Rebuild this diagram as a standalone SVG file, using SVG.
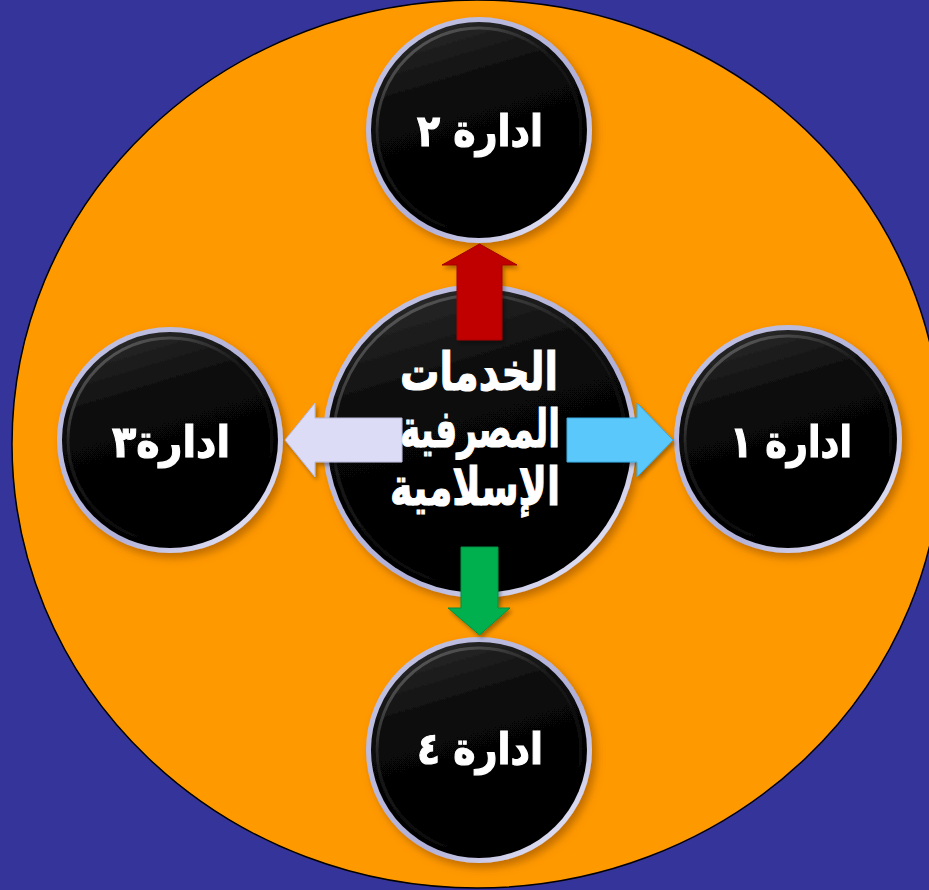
<svg xmlns="http://www.w3.org/2000/svg" width="929" height="890" viewBox="0 0 929 890">
  <defs>
    <style>
      .lbl { font-family: "DejaVu Sans", "Noto Sans", sans-serif; font-weight: bold; fill: #ffffff; stroke: #ffffff; stroke-width: 1.2; text-anchor: middle; }
      .small { font-size: 44px; }
      .big { font-size: 52px; }
      .ring { fill: url(#ringGrad); }
      .core { fill: url(#coreGrad); }
      .bevel { fill: none; stroke: url(#bevelGrad); stroke-width: 3; }
    </style>
    <linearGradient id="ringGrad" x1="0" y1="0" x2="1" y2="1">
      <stop offset="0" stop-color="#c4c4e4"/>
      <stop offset="0.6" stop-color="#b0b0d8"/>
      <stop offset="1" stop-color="#f4f4ff"/>
    </linearGradient>
    <linearGradient id="coreGrad" x1="0.3" y1="0" x2="0.6" y2="1">
      <stop offset="0" stop-color="#2a2a2a"/>
      <stop offset="0.35" stop-color="#080808"/>
      <stop offset="1" stop-color="#000000"/>
    </linearGradient>
    <linearGradient id="bevelGrad" x1="0" y1="0" x2="0.6" y2="1">
      <stop offset="0" stop-color="#707070"/>
      <stop offset="0.45" stop-color="#1a1a1a"/>
      <stop offset="1" stop-color="#000000"/>
    </linearGradient>
    <filter id="shadow" x="-20%" y="-20%" width="140%" height="140%">
      <feDropShadow dx="4" dy="5" stdDeviation="4" flood-color="#8a4a00" flood-opacity="0.55"/>
    </filter>
    <filter id="ashadow" x="-30%" y="-30%" width="160%" height="160%">
      <feDropShadow dx="2" dy="3" stdDeviation="2" flood-color="#000000" flood-opacity="0.35"/>
    </filter>
  </defs>

  <rect x="0" y="0" width="929" height="890" fill="#35349a"/>
  <ellipse id="bg-ellipse" cx="477" cy="444" rx="465" ry="444" fill="#ff9900" stroke="#000000" stroke-width="1.5"/>

  <g id="node-top" filter="url(#shadow)">
    <circle class="ring" cx="479" cy="130" r="113"/>
    <circle class="core" cx="479" cy="130" r="108"/>
    <circle class="bevel" cx="479" cy="130" r="102"/>
    <text class="lbl small" x="480" y="146" textLength="126" lengthAdjust="spacingAndGlyphs">ادارة ٢</text>
  </g>

  <g id="node-left" filter="url(#shadow)">
    <circle class="ring" cx="170" cy="440" r="113"/>
    <circle class="core" cx="170" cy="440" r="108"/>
    <circle class="bevel" cx="170" cy="440" r="102"/>
    <text class="lbl small" x="171" y="457" textLength="118" lengthAdjust="spacingAndGlyphs">ادارة٣</text>
  </g>

  <g id="node-right" filter="url(#shadow)">
    <circle class="ring" cx="788" cy="439" r="114"/>
    <circle class="core" cx="788" cy="439" r="109"/>
    <circle class="bevel" cx="788" cy="439" r="103"/>
    <text class="lbl small" x="791" y="457" textLength="122" lengthAdjust="spacingAndGlyphs">ادارة ١</text>
  </g>

  <g id="node-bottom" filter="url(#shadow)">
    <circle class="ring" cx="479" cy="750" r="113"/>
    <circle class="core" cx="479" cy="750" r="108"/>
    <circle class="bevel" cx="479" cy="750" r="102"/>
    <text class="lbl small" x="480" y="764" textLength="126" lengthAdjust="spacingAndGlyphs">ادارة ٤</text>
  </g>

  <g id="node-center" filter="url(#shadow)">
    <circle class="ring" cx="479.5" cy="441" r="157"/>
    <circle class="core" cx="479.5" cy="441" r="152"/>
    <circle class="bevel" cx="479.5" cy="441" r="146"/>
  </g>

  <g id="connectors" filter="url(#ashadow)">
    <polygon points="457,340 457,265 442,265 479.5,244 517,265 502,265 502,340" fill="#c00000" stroke="#a00000" stroke-width="1"/>
    <polygon points="402,418 315,418 315,403 285,440 315,477 315,462 402,462" fill="#dcdcf6" stroke="#b8b8d8" stroke-width="1"/>
    <polygon points="567,418 637,418 637,403 673,440 637,477 637,462 567,462" fill="#5ac8fa" stroke="#3aa8e0" stroke-width="1"/>
    <polygon points="461,547 498,547 498,608 510,608 479.5,635 448,608 461,608" fill="#00b050" stroke="#009040" stroke-width="1"/>
  </g>

  <g id="center-label">
    <text class="lbl big" x="479" y="390" textLength="158" lengthAdjust="spacingAndGlyphs">الخدمات</text>
    <text class="lbl big" x="480" y="447" textLength="160" lengthAdjust="spacingAndGlyphs">المصرفية</text>
    <text class="lbl big" x="475" y="505" textLength="170" lengthAdjust="spacingAndGlyphs">الإسلامية</text>
  </g>
</svg>
